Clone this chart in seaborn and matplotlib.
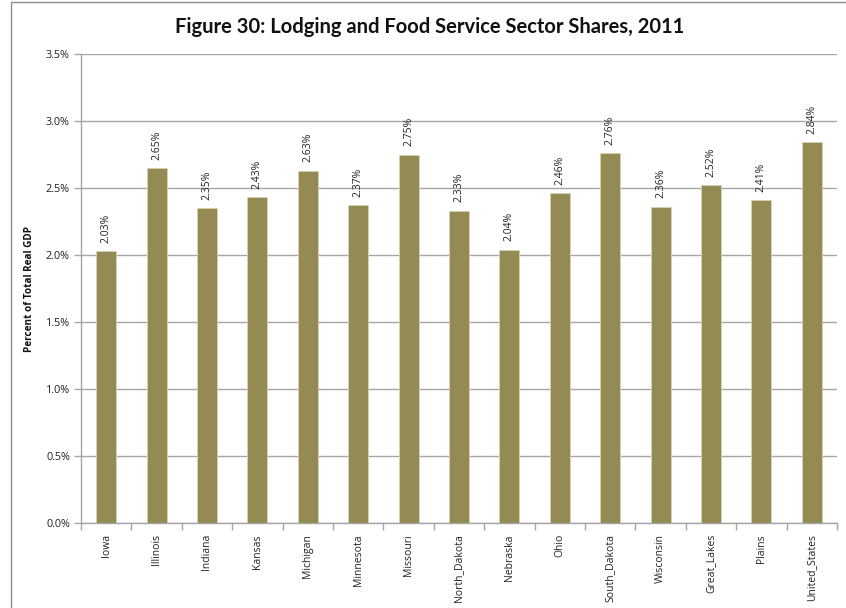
import matplotlib
matplotlib.use("Agg")
import matplotlib.pyplot as plt
from matplotlib.patches import Rectangle
from matplotlib.ticker import FixedLocator, PercentFormatter
import seaborn as sns
import pandas as pd
import numpy as np

regions = ["Iowa", "Illinois", "Indiana", "Kansas", "Michigan", "Minnesota",
           "Missouri", "North_Dakota", "Nebraska", "Ohio", "South_Dakota",
           "Wisconsin", "Great_Lakes", "Plains", "United_States"]
shares = [2.03, 2.65, 2.35, 2.43, 2.63, 2.37, 2.75, 2.33, 2.04, 2.46,
          2.76, 2.36, 2.52, 2.41, 2.84]
y_ticks = [0.0, 0.5, 1.0, 1.5, 2.0, 2.5, 3.0, 3.5]

sns.set_theme(style="white")
plt.rcParams["font.family"] = ["Open Sans", "DejaVu Sans"]

df = pd.DataFrame({"region": regions, "share": shares})

fig = plt.figure(figsize=(8.46, 6.08), dpi=100)
ax = fig.add_axes([81 / 846, 1 - 523 / 608, (837 - 81) / 846, (523 - 54) / 608])

# outer chart frame
fig.patches.append(Rectangle((11 / 846, -0.05), 1.2, 1 - 2 / 608 + 0.05,
                             transform=fig.transFigure, fill=False,
                             edgecolor="#8C8C8C", linewidth=1.0))

sns.barplot(data=df, x="region", y="share", color="#948A54", width=0.4,
            edgecolor="#D9D3B5", linewidth=0.6, saturation=1, ax=ax)

ax.set_ylim(0, 3.5)
ax.set_xlim(-0.5, len(regions) - 0.5)
ax.set_yticks(y_ticks)
ax.yaxis.set_major_formatter(PercentFormatter(decimals=1))
ax.yaxis.grid(True, color="#A6A6A6", linewidth=1.0)
ax.set_axisbelow(True)

for side in ["top", "right"]:
    ax.spines[side].set_visible(False)
for side in ["left", "bottom"]:
    ax.spines[side].set_color("#A6A6A6")
    ax.spines[side].set_linewidth(1.0)

ax.tick_params(axis="y", which="major", left=True, length=5, width=1,
               color="#A6A6A6", labelsize=7.8, labelcolor="#222222", pad=3)
ax.tick_params(axis="x", which="major", length=0, labelsize=7.5,
               labelcolor="#222222", pad=8)
ax.xaxis.set_minor_locator(FixedLocator(np.arange(-0.5, len(regions), 1.0)))
ax.tick_params(axis="x", which="minor", bottom=True, length=5, width=1,
               color="#A6A6A6")
plt.setp(ax.get_xticklabels(), rotation=90, va="top", ha="center")

ax.set_xlabel("")
ax.set_ylabel("Percent of Total Real GDP", fontsize=7.2, fontweight="bold",
              color="#111111", labelpad=8)

for i, v in enumerate(shares):
    ax.annotate(f"{v:.2f}%", (i, v), xytext=(0, 6), textcoords="offset points",
                rotation=90, ha="center", va="bottom", fontsize=7.5,
                color="#222222")

fig.text(430 / 846, 1 - 27 / 608,
         "Figure 30: Lodging and Food Service Sector Shares, 2011",
         ha="center", va="center", fontsize=14.5, fontweight="bold",
         color="#111111", family=["Lato", "DejaVu Sans"])

fig.savefig("out.png", dpi=100)
